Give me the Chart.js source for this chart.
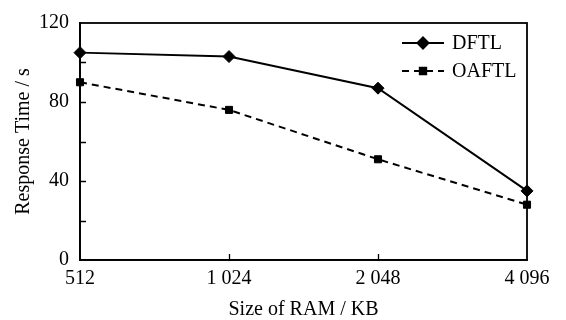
<!DOCTYPE html>
<html lang="en">
<head>
<meta charset="UTF-8">
<title>Response Time vs RAM</title>
<script src="https://cdn.jsdelivr.net/npm/chart.js"></script>
<style>
  body { margin: 0; padding: 0; background: #fff; }
  #wrap { width: 566px; height: 320px; }
</style>
</head>
<body>
<div id="wrap"><canvas id="chart" width="566" height="320"></canvas></div>
<script>
const ramSizes = ['512', '1 024', '2 048', '4 096'];
const dftl = [105, 103, 87, 35];
const oaftl = [90, 76, 51, 28];
const yTicks = [0, 40, 80, 120];

const serif = 'Liberation Serif, Times New Roman, serif';

// box round the plot, inward ticks and the legend
const framePlugin = {
  id: 'frame',
  afterDraw(chart) {
    const ctx = chart.ctx;
    const a = chart.chartArea;
    const xs = chart.scales.x, ys = chart.scales.y;
    ctx.save();
    ctx.strokeStyle = '#000';
    ctx.lineWidth = 1.8;
    ctx.strokeRect(a.left, a.top, a.right - a.left, a.bottom - a.top);
    ctx.lineWidth = 1.3;
    ctx.beginPath();
    for (let v = 20; v < 120; v += 20) {
      const y = Math.round(ys.getPixelForValue(v)) + 0.5;
      ctx.moveTo(a.left, y); ctx.lineTo(a.left + 6, y);
    }
    for (let i = 1; i < ramSizes.length - 1; i++) {
      const x = Math.round(xs.getPixelForValue(i)) + 0.5;
      ctx.moveTo(x, a.bottom); ctx.lineTo(x, a.bottom - 6);
    }
    ctx.stroke();

    // legend
    const items = [
      { label: 'DFTL', ds: chart.data.datasets[0] },
      { label: 'OAFTL', ds: chart.data.datasets[1] }
    ];
    const x0 = 402, x1 = 444;
    items.forEach((it, i) => {
      const y = 43 + i * 28;
      ctx.setLineDash(it.ds.borderDash || []);
      ctx.lineWidth = it.ds.borderWidth;
      ctx.beginPath();
      ctx.moveTo(x0, y); ctx.lineTo(x1, y);
      ctx.stroke();
      ctx.setLineDash([]);
      ctx.fillStyle = '#000';
      Chart.helpers.drawPoint(ctx, {
        pointStyle: it.ds.pointStyle, radius: it.ds.pointRadius - 0.5, rotation: 0, borderWidth: 1
      }, (x0 + x1) / 2, y);
      ctx.font = '20px ' + serif;
      ctx.textBaseline = 'middle';
      ctx.fillText(it.label, 452, y + 1);
    });
    ctx.restore();
  }
};

new Chart(document.getElementById('chart'), {
  type: 'line',
  data: {
    labels: ramSizes,
    datasets: [
      {
        label: 'DFTL',
        data: dftl,
        borderColor: '#000',
        backgroundColor: '#000',
        borderWidth: 2,
        pointStyle: 'rectRot',
        pointRadius: 6,
        pointBorderWidth: 1,
        tension: 0
      },
      {
        label: 'OAFTL',
        data: oaftl,
        borderColor: '#000',
        backgroundColor: '#000',
        borderWidth: 2,
        borderDash: [7, 5],
        pointStyle: 'rect',
        pointRadius: 5,
        pointBorderWidth: 1,
        tension: 0
      }
    ]
  },
  options: {
    responsive: false,
    animation: false,
    layout: { padding: { top: 13, right: 39, left: 0, bottom: 0 } },
    plugins: { legend: { display: false }, tooltip: { enabled: false } },
    scales: {
      x: {
        offset: false,
        grid: { display: false, drawTicks: false },
        border: { display: true, color: '#000', width: 1.8 },
        ticks: { color: '#000', font: { family: serif, size: 20 }, padding: 7, maxRotation: 0 },
        title: { display: true, text: 'Size of RAM / KB', color: '#000', font: { family: serif, size: 20 }, padding: { top: 4, bottom: -2 } },
        afterFit(s) { s.height = 60; }
      },
      y: {
        min: 0, max: 120,
        grid: { display: false, drawTicks: false },
        border: { display: true, color: '#000', width: 1.8 },
        ticks: {
          stepSize: 20,
          color: '#000',
          font: { family: serif, size: 20 },
          padding: 11,
          callback: v => yTicks.includes(v) ? String(v) : ''
        },
        title: { display: true, text: 'Response Time / s', color: '#000', font: { family: serif, size: 20 }, padding: { top: 12, bottom: 4 } },
        afterFit(s) { s.width = 80; }
      }
    }
  },
  plugins: [framePlugin]
});
</script>
</body>
</html>
